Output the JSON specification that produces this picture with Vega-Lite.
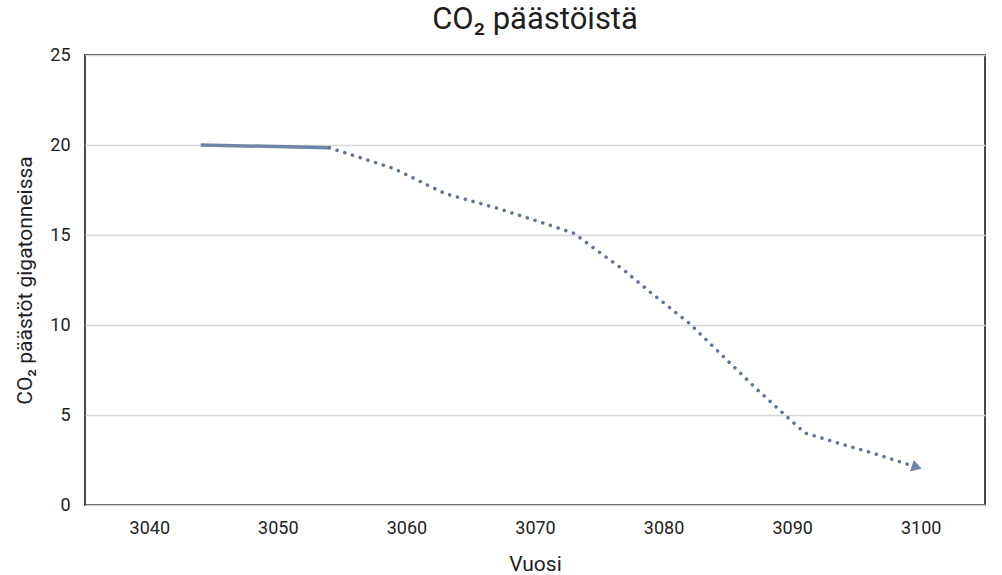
{
  "$schema": "https://vega.github.io/schema/vega-lite/v6.json",
  "autosize": "none",
  "width": 900,
  "height": 450,
  "padding": {"left": 85, "top": 55, "right": 17, "bottom": 70},
  "background": "white",
  "title": {
    "text": "CO₂ päästöistä",
    "font": "Roboto",
    "fontSize": 31,
    "fontWeight": "normal",
    "color": "#1e1e1e",
    "offset": 10
  },
  "datasets": {
    "toteutunut": [
      {"vuosi": 3044, "paastot": 20.0},
      {"vuosi": 3054, "paastot": 19.85}
    ],
    "ennuste": [
      {"vuosi": 3054, "paastot": 19.85},
      {"vuosi": 3059, "paastot": 18.7},
      {"vuosi": 3063, "paastot": 17.3},
      {"vuosi": 3067, "paastot": 16.5},
      {"vuosi": 3070.5, "paastot": 15.7},
      {"vuosi": 3073, "paastot": 15.1},
      {"vuosi": 3077, "paastot": 13.0},
      {"vuosi": 3079, "paastot": 11.8},
      {"vuosi": 3082, "paastot": 10.1},
      {"vuosi": 3085, "paastot": 8.0},
      {"vuosi": 3087.3, "paastot": 6.4},
      {"vuosi": 3089.6, "paastot": 4.9},
      {"vuosi": 3091, "paastot": 4.0},
      {"vuosi": 3093.3, "paastot": 3.5},
      {"vuosi": 3096.2, "paastot": 2.9},
      {"vuosi": 3099.7, "paastot": 2.1}
    ]
  },
  "encoding": {
    "x": {
      "field": "vuosi",
      "type": "quantitative",
      "scale": {"domain": [3035, 3105], "nice": false, "zero": false},
      "axis": {
        "title": "Vuosi",
        "values": [3040, 3050, 3060, 3070, 3080, 3090, 3100],
        "format": "d",
        "grid": false,
        "ticks": false,
        "domain": false,
        "labelPadding": 14,
        "titlePadding": 16
      }
    },
    "y": {
      "field": "paastot",
      "type": "quantitative",
      "scale": {"domain": [0, 25], "nice": false},
      "axis": {
        "title": "CO₂ päästöt gigatonneissa",
        "values": [0, 5, 10, 15, 20, 25],
        "grid": true,
        "ticks": false,
        "domain": false,
        "labelPadding": 15,
        "titlePadding": 14
      }
    }
  },
  "layer": [
    {
      "data": {"name": "toteutunut"},
      "mark": {"type": "line", "color": "#6f84a6", "strokeWidth": 3.5}
    },
    {
      "data": {"name": "ennuste"},
      "mark": {
        "type": "line",
        "color": "#5f7497",
        "strokeWidth": 3.5,
        "strokeCap": "round",
        "strokeDash": [0.1, 8]
      }
    },
    {
      "data": {"name": "ennuste"},
      "transform": [
        {"joinaggregate": [{"op": "max", "field": "vuosi", "as": "viimeinen"}]},
        {"filter": "datum.vuosi === datum.viimeinen"}
      ],
      "mark": {
        "type": "point",
        "shape": "triangle-right",
        "filled": true,
        "color": "#6f84a6",
        "opacity": 1,
        "size": 140,
        "angle": 18
      }
    }
  ],
  "config": {
    "font": "Roboto",
    "view": {"stroke": "#4a4a4a", "strokeWidth": 2},
    "axis": {
      "labelFont": "Roboto",
      "labelFontSize": 18,
      "labelColor": "#222222",
      "titleFont": "Roboto",
      "titleFontSize": 21,
      "titleFontWeight": "normal",
      "titleColor": "#1e1e1e",
      "gridColor": "#d6d6d6",
      "gridWidth": 1.5
    }
  }
}
